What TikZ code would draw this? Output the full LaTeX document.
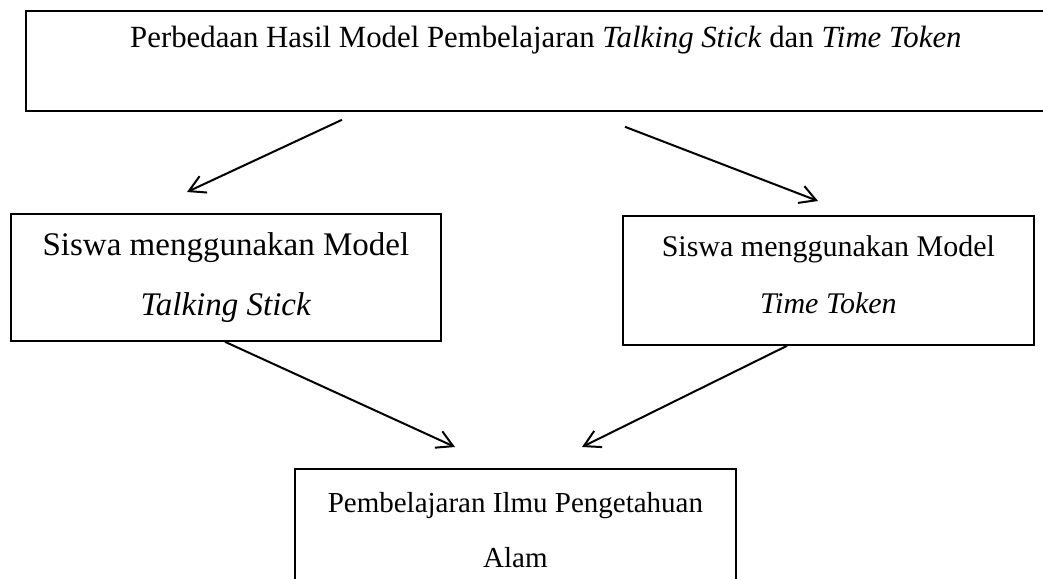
\documentclass[tikz,border=0pt]{standalone}
\usepackage{fontspec}
\setmainfont{Liberation Serif}
\usetikzlibrary{arrows.meta}
\usetikzlibrary{positioning}

\begin{document}
\begin{tikzpicture}[
					x=1pt, y=-1pt,
					box/.style={draw, line width=1.8pt, align=center, inner sep=0pt, anchor=north west},
					arr/.style={line width=2pt, -{Straight Barb[length=16pt, width=18pt]}}
				]
					\useasboundingbox (0,0) rectangle (1043,578);
					\node[box, minimum width=1040pt, minimum height=100pt, font=\fontsize{30.8}{48}\selectfont] (title) at (25,10) {Perbedaan Hasil Model Pembelajaran \textit{Talking Stick} dan \textit{Time Token}\\ \mbox{}};
					\node[box, minimum width=430pt, minimum height=127pt, font=\fontsize{33}{60}\selectfont] (lbox) at (10,213) {Siswa menggunakan Model\\ \textit{Talking Stick}};
					\node[box, minimum width=411pt, minimum height=129pt, font=\fontsize{30}{57}\selectfont] (rbox) at (622,215) {Siswa menggunakan Model\\ \textit{Time Token}\\[-45pt] \mbox{}};
					\node[box, minimum width=441pt, minimum height=122pt, font=\fontsize{29}{55}\selectfont] (bbox) at (294,468) {Pembelajaran Ilmu Pengetahuan\\ Alam};
					\draw[arr] ([shift={(317,8)}]title.south west) -- ([shift={(177,-21)}]lbox.north west);
					\draw[arr] ([shift={(600,15)}]title.south west) -- ([shift={(196,-14)}]rbox.north west);
					\draw[arr] ([shift={(215,0)}]lbox.south west) -- ([shift={(161,-21)}]bbox.north west);
					\draw[arr] ([shift={(165,0)}]rbox.south west) -- ([shift={(288,-21)}]bbox.north west);
				\end{tikzpicture}
\end{document}
